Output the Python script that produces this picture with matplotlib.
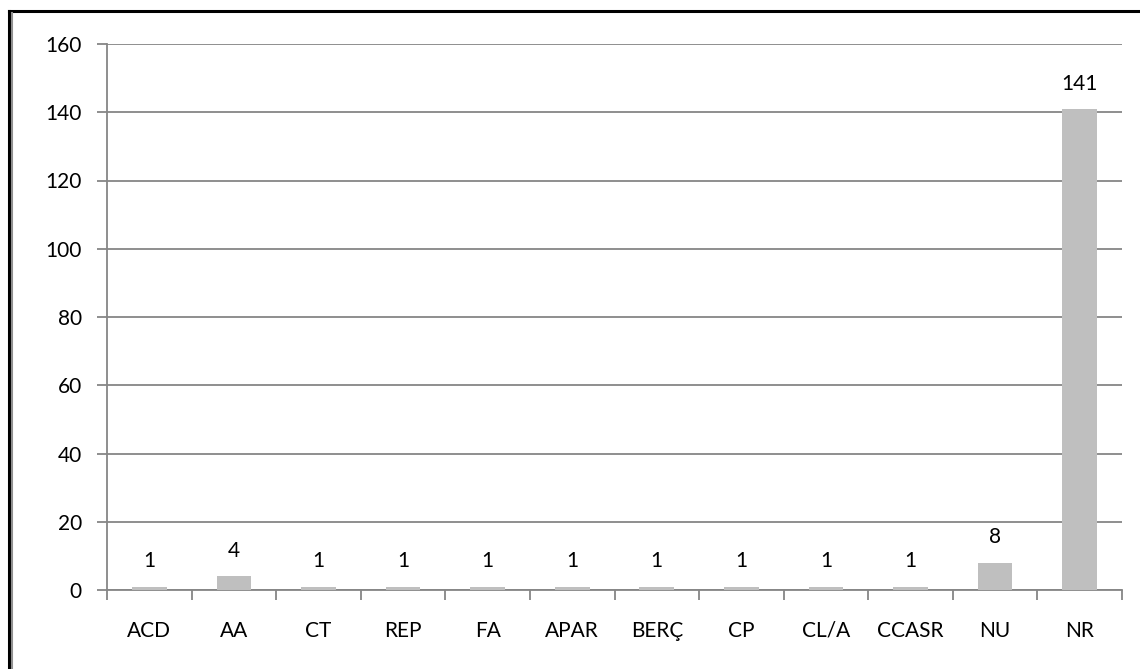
import numpy as np
import matplotlib.pyplot as plt
from matplotlib.lines import Line2D

categories = ["ACD", "AA", "CT", "REP", "FA", "APAR", "BERÇ", "CP", "CL/A", "CCASR", "NU", "NR"]
counts = [1, 4, 1, 1, 1, 1, 1, 1, 1, 1, 8, 141]
yticks = [0, 20, 40, 60, 80, 100, 120, 140, 160]

plt.rcParams["font.family"] = ["Lato", "DejaVu Sans"]
grid_color = "#868686"
fs = 15

fig = plt.figure(figsize=(11.4, 6.69), dpi=100, facecolor="white")
ax = fig.add_axes([107 / 1140, 1 - 590 / 669, (1122 - 107) / 1140, (590 - 44) / 669])

x = np.arange(len(categories))
ax.bar(x, counts, width=0.41, color="#BFBFBF", zorder=3)

for xi, v in zip(x, counts):
    ax.annotate(str(v), (xi, v), xytext=(0, 11), textcoords="offset points",
                ha="center", va="bottom", fontsize=fs, color="black")

ax.set_xlim(-0.5, len(categories) - 0.5)
ax.set_ylim(0, 160)
ax.set_yticks(yticks)
ax.set_yticklabels([str(t) for t in yticks])
ax.yaxis.grid(True, color=grid_color, linewidth=1.3, zorder=0)
ax.tick_params(axis="y", length=7, width=1.3, color=grid_color, pad=11, labelsize=fs)

ax.set_xticks(x)
ax.set_xticklabels(categories)
ax.tick_params(axis="x", which="major", length=0, pad=22, labelsize=fs)
ax.set_xticks(np.arange(len(categories) + 1) - 0.5, minor=True)
ax.tick_params(axis="x", which="minor", length=7, width=1.3, color=grid_color)

for side in ["top", "right"]:
    ax.spines[side].set_visible(False)
for side in ["left", "bottom"]:
    ax.spines[side].set_color(grid_color)
    ax.spines[side].set_linewidth(1.3)

# chart frame (top and left edges visible in the reference)
W, H = 1140, 669
fig.add_artist(Line2D([9 / W, 1], [1 - 11 / H, 1 - 11 / H], color="black", linewidth=2.2, transform=fig.transFigure))
fig.add_artist(Line2D([9 / W, 9 / W], [0, 1 - 11 / H], color="black", linewidth=2.2, transform=fig.transFigure))
fig.add_artist(Line2D([12 / W, 12 / W], [0, 1 - 13 / H], color="#909090", linewidth=1.5, transform=fig.transFigure))

fig.savefig("out.png", dpi=100, facecolor="white")
